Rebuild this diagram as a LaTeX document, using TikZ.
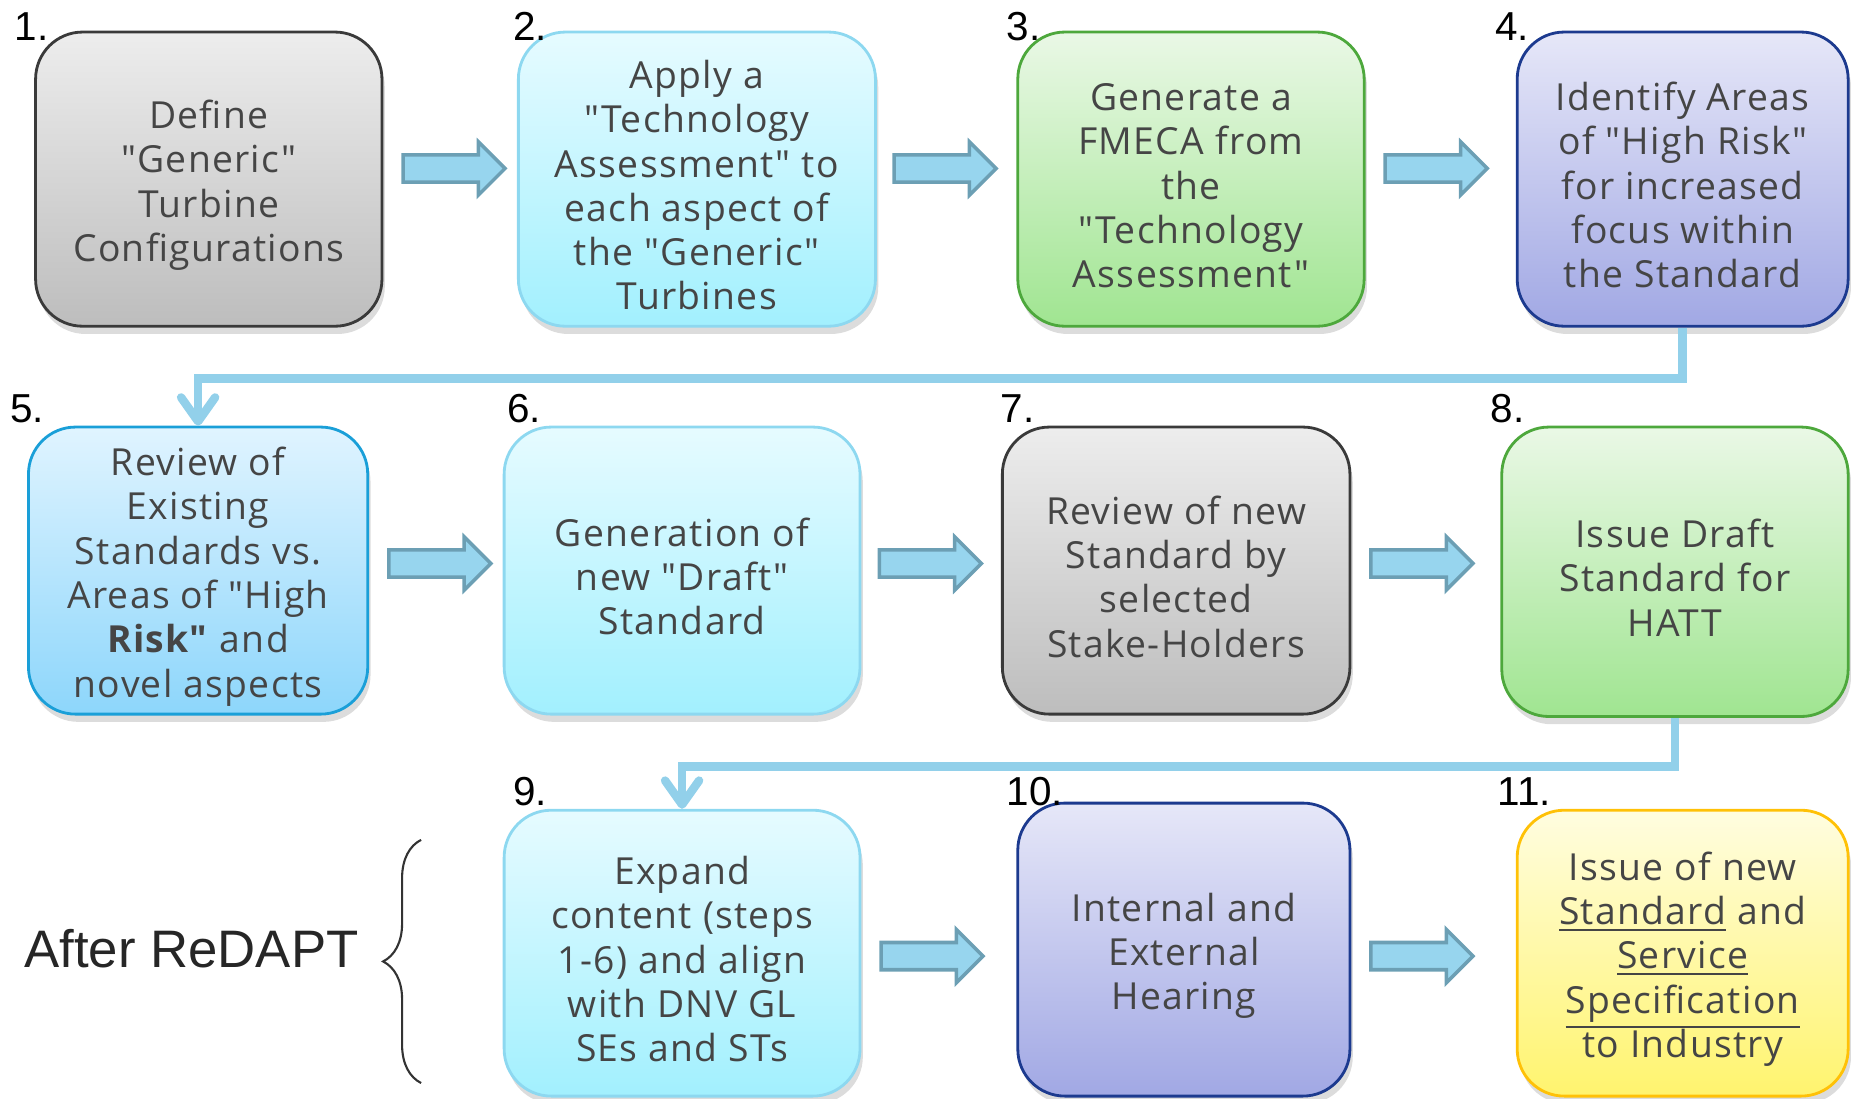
\documentclass[tikz,border=0pt]{standalone}
\usepackage{fontspec}
\setmainfont{Open Sans}[Ligatures=TeXOff, LetterSpace=3.5]
\newfontfamily\numfont{Liberation Sans}
\usetikzlibrary{shadows,shapes.arrows,arrows.meta,decorations.pathreplacing}

\def\px{0.01186cm}
\newcommand\topgap{\rule{0pt}{11.5pt}}

% colours
\definecolor{boxtext}{HTML}{454545}
\definecolor{grayTop}{HTML}{EDEDED}
\definecolor{grayBot}{HTML}{BDBDBD}
\definecolor{grayLine}{HTML}{3A3A3A}
\definecolor{cyanTop}{HTML}{E6FBFF}
\definecolor{cyanBot}{HTML}{A2F0FE}
\definecolor{cyanLine}{HTML}{8DD8F0}
\definecolor{greenTop}{HTML}{EAF8E6}
\definecolor{greenBot}{HTML}{A0E591}
\definecolor{greenLine}{HTML}{4DA83C}
\definecolor{lavTop}{HTML}{E6E7F8}
\definecolor{lavBot}{HTML}{A1A8E4}
\definecolor{lavLine}{HTML}{1C3A8F}
\definecolor{blueTop}{HTML}{E0F4FF}
\definecolor{blueBot}{HTML}{8DD6FB}
\definecolor{blueLine}{HTML}{1A9FD8}
\definecolor{yelTop}{HTML}{FFFDE0}
\definecolor{yelBot}{HTML}{FFF46E}
\definecolor{yelLine}{HTML}{FFC107}
\definecolor{arrFill}{HTML}{97D5EE}
\definecolor{arrLine}{HTML}{6C9FB4}
\definecolor{linkLine}{HTML}{92D0EA}

\tikzset{
  box/.style={rounded corners=0.47cm, line width=0.8pt, align=center, inner sep=0pt,
    text=boxtext, font=\fontsize{10.6}{12.6}\selectfont,
    drop shadow={shadow xshift=0.8pt, shadow yshift=-2.2pt, opacity=0.28}},
  graybox/.style={box, draw=grayLine, top color=grayTop, bottom color=grayBot},
  cyanbox/.style={box, draw=cyanLine, top color=cyanTop, bottom color=cyanBot},
  greenbox/.style={box, draw=greenLine, top color=greenTop, bottom color=greenBot},
  lavbox/.style={box, draw=lavLine, top color=lavTop, bottom color=lavBot},
  bluebox/.style={box, draw=blueLine, top color=blueTop, bottom color=blueBot},
  yelbox/.style={box, draw=yelLine, top color=yelTop, bottom color=yelBot},
  num/.style={font=\numfont\fontsize{11.5}{13}\selectfont, inner sep=0pt, anchor=base west},
  blockarrow/.style={single arrow, draw=arrLine, fill=arrFill, line width=1pt,
    minimum height=86*\px, inner xsep=0pt, inner ysep=10*\px,
    single arrow head extend=11*\px},
  link/.style={draw=linkLine, line width=2.4pt,
    -{Straight Barb[round,length=2.4mm,width=3.4mm]}},
}

\begin{document}
\begin{tikzpicture}[x=\px, y=-\px]
    \useasboundingbox (0,0) rectangle (1568,926);

    % first row
    \node[graybox, minimum width=292*\px, minimum height=248*\px] (b1) at (176,151)
        {\topgap Define\\"Generic"\\Turbine\\Configurations};
    \node[cyanbox, minimum width=301*\px, minimum height=248*\px] (b2) at (587.5,151)
        {\topgap Apply a\\"Technology\\Assessment" to\\each aspect of\\the "Generic"\\Turbines};
    \node[greenbox, minimum width=292*\px, minimum height=248*\px] (b3) at (1004,151)
        {\topgap Generate a\\FMECA from\\the\\"Technology\\Assessment"};
    \node[lavbox, minimum width=279*\px, minimum height=248*\px] (b4) at (1418.5,151)
        {\topgap Identify Areas\\of "High Risk"\\for increased\\focus within\\the Standard};

    % second row
    \node[bluebox, minimum width=286*\px, minimum height=242*\px] (b5) at (167,481)
        {\topgap Review of\\Existing\\Standards vs.\\Areas of "High\\\textbf{Risk"} and\\novel aspects};
    \node[cyanbox, minimum width=300*\px, minimum height=242*\px] (b6) at (575,481)
        {\topgap Generation of\\new "Draft"\\Standard};
    \node[graybox, minimum width=293*\px, minimum height=242*\px] (b7) at (991.5,481)
        {\topgap Review of new\\Standard by\\selected\\Stake-Holders};
    \node[greenbox, minimum width=292*\px, minimum height=244*\px] (b8) at (1412,482)
        {\topgap Issue Draft\\Standard for\\HATT};

    % third row
    \node[cyanbox, minimum width=300*\px, minimum height=241*\px] (b9) at (575,803.5)
        {\topgap Expand\\content (steps\\1-6) and align\\with DNV GL\\SEs and STs};
    \node[lavbox, minimum width=280*\px, minimum height=247*\px] (b10) at (998,800.5)
        {\topgap Internal and\\External\\Hearing};
    \node[yelbox, minimum width=279*\px, minimum height=241*\px] (b11) at (1418.5,803.5)
        {\topgap Issue of new\\\underline{Standard} and\\\underline{Service}\\\underline{Specification}\\to Industry};

    % step numbers
    \foreach \n/\x/\y in {1/12/34, 2/432/34, 3/848/34, 4/1260/34,
                          5/8/356, 6/427/356, 7/843/356, 8/1256/356,
                          9/432/679, 10/848/679, 11/1262/679}{
        \node[num] (n\n) at (\x,\y) {\n.};
    }

    % block arrows
    \foreach \a/\x/\y in {12/377/142, 23/791/142, 34/1205/142,
                          56/365/475, 67/778.5/475, 78/1193/475,
                          910/780/806, 1011/1193/806}{
        \node[blockarrow] (a\a) at (\x,\y) {};
    }

    % links between rows
    \draw[link] (b4.south) -- ++(0,43) -| (b5.north);
    \draw[link] (b8.south) -- ++(0,41) -| (b9.north);

    % after ReDAPT
    \node[font=\numfont\fontsize{15}{18}\selectfont, text=black!85, anchor=west, inner sep=0pt]
        (after) at (20,800) {After ReDAPT};
    \draw[black!80, line width=0.6pt, decorate, decoration={brace, amplitude=0.38cm}]
        (355,913) -- (355,708);

\end{tikzpicture}
\end{document}
